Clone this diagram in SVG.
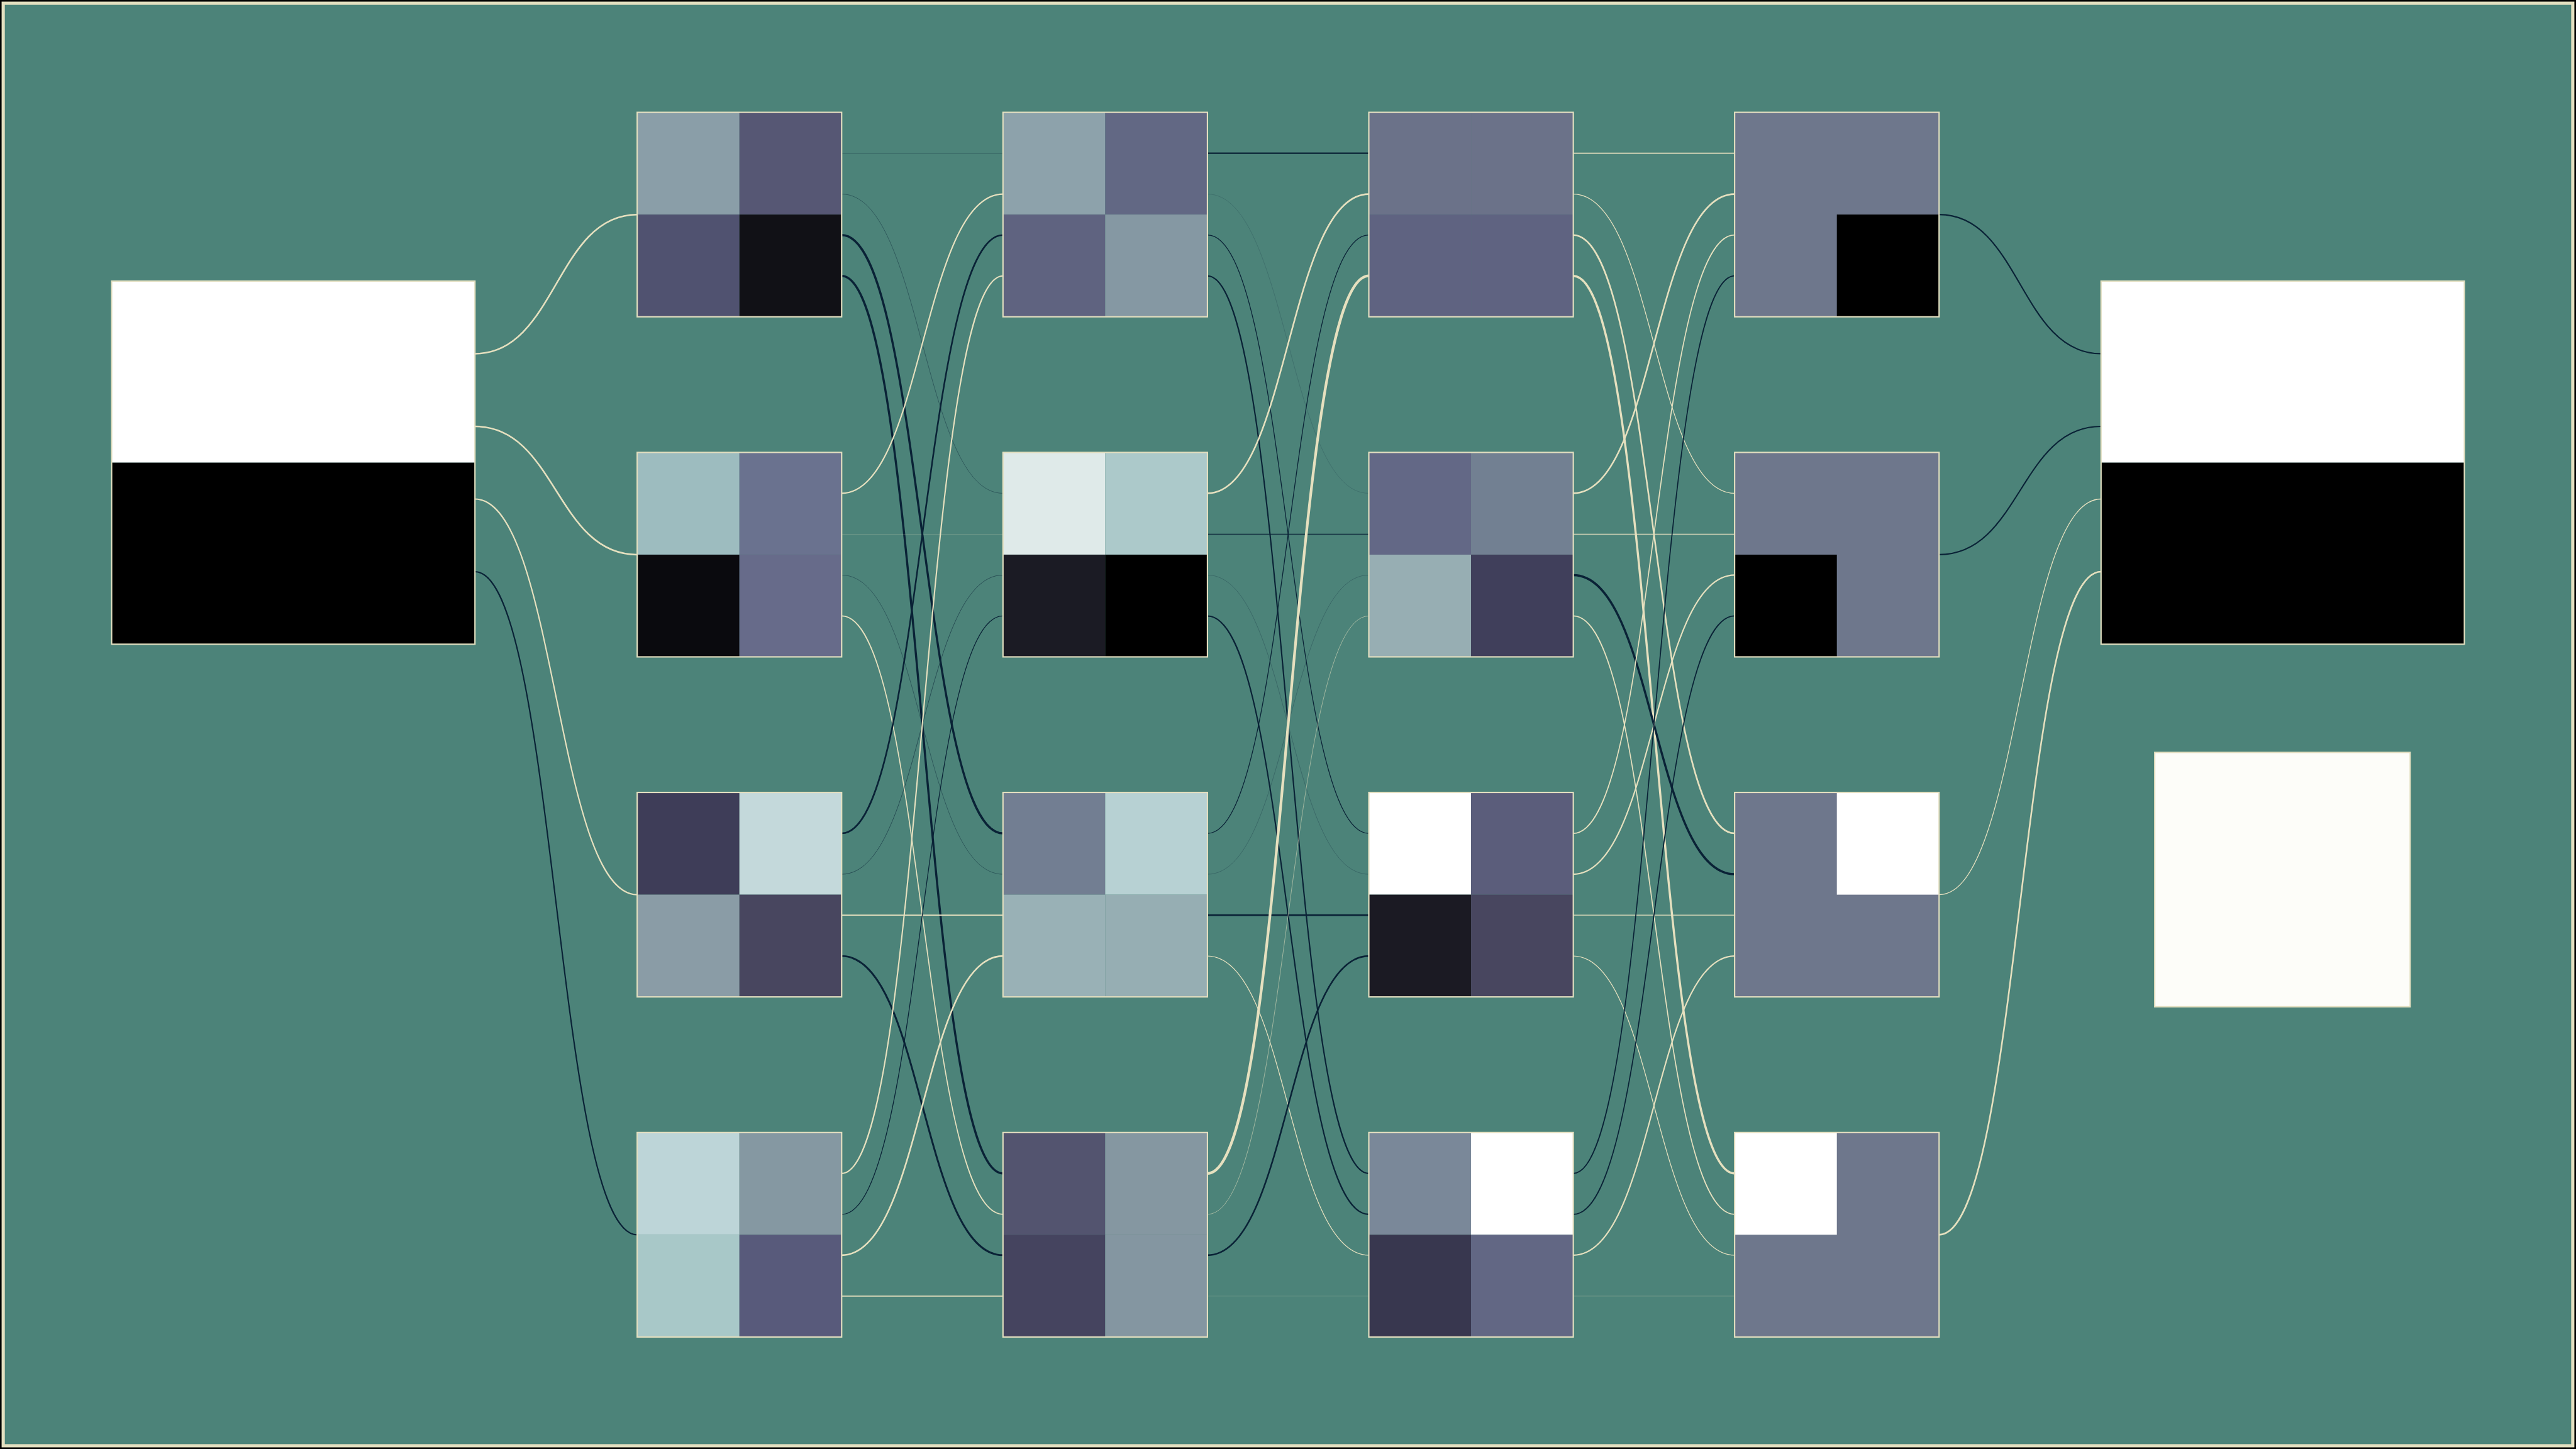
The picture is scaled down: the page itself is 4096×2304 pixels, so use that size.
<svg xmlns="http://www.w3.org/2000/svg" width="4096" height="2304" viewBox="0 0 4096 2304">
<style>
.c{fill:none}
.p{stroke:#e6e0bf}
.n{stroke:#0a2236}
.w10{stroke-width:1}
.w15{stroke-width:1.5}
.w20{stroke-width:2}
.w25{stroke-width:2.5}
.w30{stroke-width:3}
.w35{stroke-width:3.5}
.w40{stroke-width:4}
.w50{stroke-width:5}
.o2{stroke-opacity:0.22}
.o3{stroke-opacity:0.32}
.o5{stroke-opacity:0.5}
.o6{stroke-opacity:0.65}
.frame{fill:none;stroke:#e3dfc0;stroke-width:2.5}
</style>
<rect x="0" y="0" width="4096" height="2304" fill="#000000"/>
<g transform="scale(0.853333)">
<rect x="6" y="6" width="4788" height="2688" fill="#4c8379" stroke="#e3dfc0" stroke-width="6"/>
<g id="connectors" class="c">
<!-- input to layer 1 -->
<path class="p w30" d="M885,659.1 C1036.15,659.1 1036.15,399.8 1187.3,399.8"/>
<path class="p w30" d="M885,794.5 C1036.15,794.5 1036.15,1033.5 1187.3,1033.5"/>
<path class="p w25" d="M885,929.9 C1036.15,929.9 1036.15,1667.1 1187.3,1667.1"/>
<path class="n w25" d="M885,1065.3 C1036.15,1065.3 1036.15,2300.8 1187.3,2300.8"/>
<!-- layer 1 to layer 2 -->
<path class="n w15 o3" d="M1568.3,285.5 L1868.9,285.5"/>
<path class="n w10 o5" d="M1568.3,361.7 C1718.6,361.7 1718.6,919.2 1868.9,919.2"/>
<path class="n w40" d="M1568.3,437.9 C1718.6,437.9 1718.6,1552.8 1868.9,1552.8"/>
<path class="n w40" d="M1568.3,514.1 C1718.6,514.1 1718.6,2186.5 1868.9,2186.5"/>
<path class="p w25" d="M1568.3,919.2 C1718.6,919.2 1718.6,361.7 1868.9,361.7"/>
<path class="p w10 o3" d="M1568.3,995.4 L1868.9,995.4"/>
<path class="n w10 o5" d="M1568.3,1071.6 C1718.6,1071.6 1718.6,1629 1868.9,1629"/>
<path class="p w20" d="M1568.3,1147.8 C1718.6,1147.8 1718.6,2262.7 1868.9,2262.7"/>
<path class="n w30" d="M1568.3,1552.8 C1718.6,1552.8 1718.6,437.9 1868.9,437.9"/>
<path class="n w10 o6" d="M1568.3,1629 C1718.6,1629 1718.6,1071.6 1868.9,1071.6"/>
<path class="p w20" d="M1568.3,1705.2 L1868.9,1705.2"/>
<path class="n w35" d="M1568.3,1781.4 C1718.6,1781.4 1718.6,2338.9 1868.9,2338.9"/>
<path class="p w25" d="M1568.3,2186.5 C1718.6,2186.5 1718.6,514.1 1868.9,514.1"/>
<path class="n w15" d="M1568.3,2262.7 C1718.6,2262.7 1718.6,1147.8 1868.9,1147.8"/>
<path class="p w30" d="M1568.3,2338.9 C1718.6,2338.9 1718.6,1781.4 1868.9,1781.4"/>
<path class="p w20" d="M1568.3,2415.1 L1868.9,2415.1"/>
<!-- layer 2 to layer 3 -->
<path class="n w25" d="M2249.9,285.5 L2550.6,285.5"/>
<path class="n w10 o2" d="M2249.9,361.7 C2400.25,361.7 2400.25,919.2 2550.6,919.2"/>
<path class="n w15" d="M2249.9,437.9 C2400.25,437.9 2400.25,1552.8 2550.6,1552.8"/>
<path class="n w25" d="M2249.9,514.1 C2400.25,514.1 2400.25,2186.5 2550.6,2186.5"/>
<path class="p w30" d="M2249.9,919.2 C2400.25,919.2 2400.25,361.7 2550.6,361.7"/>
<path class="n w15" d="M2249.9,995.4 L2550.6,995.4"/>
<path class="n w10 o3" d="M2249.9,1071.6 C2400.25,1071.6 2400.25,1629 2550.6,1629"/>
<path class="n w25" d="M2249.9,1147.8 C2400.25,1147.8 2400.25,2262.7 2550.6,2262.7"/>
<path class="n w15" d="M2249.9,1552.8 C2400.25,1552.8 2400.25,437.9 2550.6,437.9"/>
<path class="n w10 o3" d="M2249.9,1629 C2400.25,1629 2400.25,1071.6 2550.6,1071.6"/>
<path class="n w30" d="M2249.9,1705.2 L2550.6,1705.2"/>
<path class="p w15" d="M2249.9,1781.4 C2400.25,1781.4 2400.25,2338.9 2550.6,2338.9"/>
<path class="p w50" d="M2249.9,2186.5 C2400.25,2186.5 2400.25,514.1 2550.6,514.1"/>
<path class="p w10 o6" d="M2249.9,2262.7 C2400.25,2262.7 2400.25,1147.8 2550.6,1147.8"/>
<path class="n w30" d="M2249.9,2338.9 C2400.25,2338.9 2400.25,1781.4 2550.6,1781.4"/>
<path class="p w10 o2" d="M2249.9,2415.1 L2550.6,2415.1"/>
<!-- layer 3 to layer 4 -->
<path class="p w20" d="M2931.6,285.5 L3232.2,285.5"/>
<path class="p w15" d="M2931.6,361.7 C3081.9,361.7 3081.9,919.2 3232.2,919.2"/>
<path class="p w30" d="M2931.6,437.9 C3081.9,437.9 3081.9,1552.8 3232.2,1552.8"/>
<path class="p w40" d="M2931.6,514.1 C3081.9,514.1 3081.9,2186.5 3232.2,2186.5"/>
<path class="p w30" d="M2931.6,919.2 C3081.9,919.2 3081.9,361.7 3232.2,361.7"/>
<path class="p w15" d="M2931.6,995.4 L3232.2,995.4"/>
<path class="n w40" d="M2931.6,1071.6 C3081.9,1071.6 3081.9,1629 3232.2,1629"/>
<path class="p w20" d="M2931.6,1147.8 C3081.9,1147.8 3081.9,2262.7 3232.2,2262.7"/>
<path class="p w20" d="M2931.6,1552.8 C3081.9,1552.8 3081.9,437.9 3232.2,437.9"/>
<path class="p w25" d="M2931.6,1629 C3081.9,1629 3081.9,1071.6 3232.2,1071.6"/>
<path class="p w15" d="M2931.6,1705.2 L3232.2,1705.2"/>
<path class="p w15" d="M2931.6,1781.4 C3081.9,1781.4 3081.9,2338.9 3232.2,2338.9"/>
<path class="n w20" d="M2931.6,2186.5 C3081.9,2186.5 3081.9,514.1 3232.2,514.1"/>
<path class="n w20" d="M2931.6,2262.7 C3081.9,2262.7 3081.9,1147.8 3232.2,1147.8"/>
<path class="p w25" d="M2931.6,2338.9 C3081.9,2338.9 3081.9,1781.4 3232.2,1781.4"/>
<path class="p w10 o3" d="M2931.6,2415.1 L3232.2,2415.1"/>
<!-- layer 4 to output -->
<path class="n w25" d="M3613.2,399.8 C3764.1,399.8 3764.1,659.1 3915,659.1"/>
<path class="n w25" d="M3613.2,1033.5 C3764.1,1033.5 3764.1,794.5 3915,794.5"/>
<path class="p w15" d="M3613.2,1667.1 C3764.1,1667.1 3764.1,929.9 3915,929.9"/>
<path class="p w30" d="M3613.2,2300.8 C3764.1,2300.8 3764.1,1065.3 3915,1065.3"/>
</g>
<g id="input">
<rect x="208" y="523.7" width="677" height="338.4" fill="#ffffff"/>
<rect x="208" y="862.1" width="677" height="338.3" fill="#000000"/>
<rect class="frame" x="208" y="523.7" width="677" height="676.7"/>
</g>
<g id="output">
<rect x="3915" y="523.7" width="677" height="338.4" fill="#ffffff"/>
<rect x="3915" y="862.1" width="677" height="338.3" fill="#000000"/>
<rect class="frame" x="3915" y="523.7" width="677" height="676.7"/>
</g>
<g id="legend-square">
<rect x="4015" y="1402" width="476" height="474" fill="#fdfdf9" stroke="#e3dfc0" stroke-width="2.5"/>
</g>
<!-- layer 1 -->
<g id="n1-0">
<rect x="1187.3" y="209.3" width="190.5" height="190.5" fill="#8a9ea8"/><rect x="1377.8" y="209.3" width="190.5" height="190.5" fill="#565774"/>
<rect x="1187.3" y="399.8" width="190.5" height="190.5" fill="#505270"/><rect x="1377.8" y="399.8" width="190.5" height="190.5" fill="#111116"/>
<rect class="frame" x="1187.3" y="209.3" width="381" height="381"/>
</g>
<g id="n1-1">
<rect x="1187.3" y="843" width="190.5" height="190.5" fill="#9dbcbf"/><rect x="1377.8" y="843" width="190.5" height="190.5" fill="#6a728f"/>
<rect x="1187.3" y="1033.5" width="190.5" height="190.5" fill="#0a0a0e"/><rect x="1377.8" y="1033.5" width="190.5" height="190.5" fill="#676b8a"/>
<rect class="frame" x="1187.3" y="843" width="381" height="381"/>
</g>
<g id="n1-2">
<rect x="1187.3" y="1476.6" width="190.5" height="190.5" fill="#3e3d58"/><rect x="1377.8" y="1476.6" width="190.5" height="190.5" fill="#c4d9db"/>
<rect x="1187.3" y="1667.1" width="190.5" height="190.5" fill="#8a9ca6"/><rect x="1377.8" y="1667.1" width="190.5" height="190.5" fill="#48465f"/>
<rect class="frame" x="1187.3" y="1476.6" width="381" height="381"/>
</g>
<g id="n1-3">
<rect x="1187.3" y="2110.3" width="190.5" height="190.5" fill="#bdd5d8"/><rect x="1377.8" y="2110.3" width="190.5" height="190.5" fill="#8598a2"/>
<rect x="1187.3" y="2300.8" width="190.5" height="190.5" fill="#a8c8c8"/><rect x="1377.8" y="2300.8" width="190.5" height="190.5" fill="#585a7b"/>
<rect class="frame" x="1187.3" y="2110.3" width="381" height="381"/>
</g>
<!-- layer 2 -->
<g id="n2-0">
<rect x="1868.9" y="209.3" width="190.5" height="190.5" fill="#8da2ab"/><rect x="2059.4" y="209.3" width="190.5" height="190.5" fill="#626884"/>
<rect x="1868.9" y="399.8" width="190.5" height="190.5" fill="#5f6380"/><rect x="2059.4" y="399.8" width="190.5" height="190.5" fill="#8598a3"/>
<rect class="frame" x="1868.9" y="209.3" width="381" height="381"/>
</g>
<g id="n2-1">
<rect x="1868.9" y="843" width="190.5" height="190.5" fill="#dfeae9"/><rect x="2059.4" y="843" width="190.5" height="190.5" fill="#acc9ca"/>
<rect x="1868.9" y="1033.5" width="190.5" height="190.5" fill="#1b1b24"/><rect x="2059.4" y="1033.5" width="190.5" height="190.5" fill="#000000"/>
<rect class="frame" x="1868.9" y="843" width="381" height="381"/>
</g>
<g id="n2-2">
<rect x="1868.9" y="1476.6" width="190.5" height="190.5" fill="#727e92"/><rect x="2059.4" y="1476.6" width="190.5" height="190.5" fill="#b7d1d3"/>
<rect x="1868.9" y="1667.1" width="190.5" height="190.5" fill="#99b1b6"/><rect x="2059.4" y="1667.1" width="190.5" height="190.5" fill="#96aeb3"/>
<rect class="frame" x="1868.9" y="1476.6" width="381" height="381"/>
</g>
<g id="n2-3">
<rect x="1868.9" y="2110.3" width="190.5" height="190.5" fill="#53546f"/><rect x="2059.4" y="2110.3" width="190.5" height="190.5" fill="#8597a1"/>
<rect x="1868.9" y="2300.8" width="190.5" height="190.5" fill="#45445f"/><rect x="2059.4" y="2300.8" width="190.5" height="190.5" fill="#8496a1"/>
<rect class="frame" x="1868.9" y="2110.3" width="381" height="381"/>
</g>
<!-- layer 3 -->
<g id="n3-0">
<rect x="2550.6" y="209.3" width="190.5" height="190.5" fill="#6b7289"/><rect x="2741.1" y="209.3" width="190.5" height="190.5" fill="#6b7289"/>
<rect x="2550.6" y="399.8" width="190.5" height="190.5" fill="#5f6381"/><rect x="2741.1" y="399.8" width="190.5" height="190.5" fill="#5f6381"/>
<rect class="frame" x="2550.6" y="209.3" width="381" height="381"/>
</g>
<g id="n3-1">
<rect x="2550.6" y="843" width="190.5" height="190.5" fill="#636886"/><rect x="2741.1" y="843" width="190.5" height="190.5" fill="#728092"/>
<rect x="2550.6" y="1033.5" width="190.5" height="190.5" fill="#97aeb3"/><rect x="2741.1" y="1033.5" width="190.5" height="190.5" fill="#403f5b"/>
<rect class="frame" x="2550.6" y="843" width="381" height="381"/>
</g>
<g id="n3-2">
<rect x="2550.6" y="1476.6" width="190.5" height="190.5" fill="#ffffff"/><rect x="2741.1" y="1476.6" width="190.5" height="190.5" fill="#5b5d7b"/>
<rect x="2550.6" y="1667.1" width="190.5" height="190.5" fill="#1b1a23"/><rect x="2741.1" y="1667.1" width="190.5" height="190.5" fill="#48465f"/>
<rect class="frame" x="2550.6" y="1476.6" width="381" height="381"/>
</g>
<g id="n3-3">
<rect x="2550.6" y="2110.3" width="190.5" height="190.5" fill="#7a8899"/><rect x="2741.1" y="2110.3" width="190.5" height="190.5" fill="#ffffff"/>
<rect x="2550.6" y="2300.8" width="190.5" height="190.5" fill="#38374f"/><rect x="2741.1" y="2300.8" width="190.5" height="190.5" fill="#626784"/>
<rect class="frame" x="2550.6" y="2110.3" width="381" height="381"/>
</g>
<!-- layer 4 -->
<g id="n4-0">
<rect x="3232.2" y="209.3" width="381" height="381" fill="#6e778c"/>
<rect x="3422.7" y="399.8" width="190.5" height="190.5" fill="#000000"/>
<rect class="frame" x="3232.2" y="209.3" width="381" height="381"/>
</g>
<g id="n4-1">
<rect x="3232.2" y="843" width="381" height="381" fill="#6e778c"/>
<rect x="3232.2" y="1033.5" width="190.5" height="190.5" fill="#000000"/>
<rect class="frame" x="3232.2" y="843" width="381" height="381"/>
</g>
<g id="n4-2">
<rect x="3232.2" y="1476.6" width="381" height="381" fill="#6e778c"/>
<rect x="3422.7" y="1476.6" width="190.5" height="190.5" fill="#ffffff"/>
<rect class="frame" x="3232.2" y="1476.6" width="381" height="381"/>
</g>
<g id="n4-3">
<rect x="3232.2" y="2110.3" width="381" height="381" fill="#6e778c"/>
<rect x="3232.2" y="2110.3" width="190.5" height="190.5" fill="#ffffff"/>
<rect class="frame" x="3232.2" y="2110.3" width="381" height="381"/>
</g>
</g>
</svg>
